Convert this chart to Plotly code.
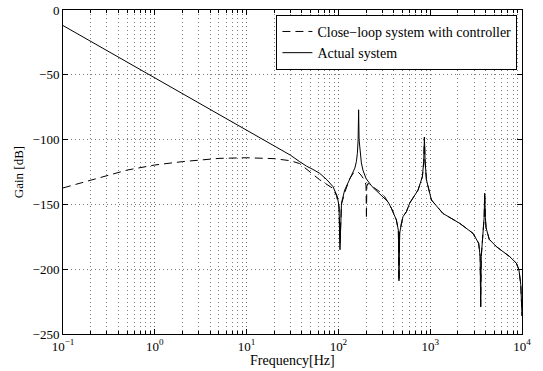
import plotly.graph_objects as go

# Actual system (frequency in Hz, gain in dB)
actual_freq = [0.1, 0.2, 0.5, 1, 2, 5, 10, 20, 30, 37.8, 45, 52.8, 62.5, 75, 87.3, 97.5,
               101.6, 104, 108, 117, 133, 151, 157, 161, 164, 166, 168, 172, 178, 185,
               200, 233, 296, 347, 378, 428, 450, 457, 465, 485, 505, 551, 598, 737,
               822, 850, 865, 880, 910, 1031, 1378, 2094, 2924, 3373, 3500, 3548, 3600,
               3870, 3924, 3990, 4060, 4400, 5265, 7345, 8690, 9270, 9700, 10000]
actual_db = [-12, -24.2, -40.2, -52.4, -64.6, -80.6, -92.8, -105, -112, -117, -120.5, -123,
             -126, -131, -136.3, -144, -151.7, -185, -149, -139, -130, -122, -117, -110.6,
             -100, -77, -100, -110.6, -118, -123.5, -130, -136.3, -143.5, -148, -153, -162,
             -170, -209, -172, -164.6, -159.5, -155.6, -149, -139, -128.6, -117, -98.2,
             -117, -131, -146.6, -157, -164.6, -172.3, -180, -190, -229, -190, -160,
             -141.4, -160, -168, -177, -182.6, -190.3, -195.4, -200.6, -212, -236]

# Close-loop system with controller
closed_freq = [0.1, 0.2, 0.5, 1, 2, 5, 10, 20, 30, 37.8, 45, 52.8, 62.5, 87, 95, 101.6,
               104, 108, 117, 133, 145, 162, 176, 191, 200, 202, 204, 210, 248, 282,
               319, 347, 378, 428, 450, 457, 465, 485, 505, 551, 598, 737, 822, 850,
               865, 880, 910, 1031, 1378, 2094, 2924, 3373, 3500, 3548, 3600, 3870,
               3924, 3990, 4060, 4400, 5265, 7345, 8690, 9270, 9700, 10000]
closed_db = [-137.3, -131.2, -123.5, -119.6, -117, -114.5, -114, -114.7, -116.3, -118.5,
             -123, -127.3, -131, -137.6, -143, -152, -180, -150, -141, -130, -126,
             -124.7, -127.3, -131, -135, -161, -136, -133.8, -137.6, -140.2, -144, -148,
             -153, -162, -170, -209, -172, -164.6, -159.5, -155.6, -149, -139, -128.6,
             -117, -98.2, -117, -131, -146.6, -157, -164.6, -172.3, -180, -190, -229,
             -190, -160, -141.4, -160, -168, -177, -182.6, -190.3, -195.4, -200.6, -212,
             -236]

x_tickvals = [0.1, 1, 10, 100, 1000, 10000]
x_ticktext = ["10<sup>\u22121</sup>", "10<sup>0</sup>", "10<sup>1</sup>",
              "10<sup>2</sup>", "10<sup>3</sup>", "10<sup>4</sup>"]
y_ticks = [-250, -200, -150, -100, -50, 0]

font_family = "Liberation Serif, Times New Roman, Times, serif"

fig = go.Figure()
fig.add_trace(go.Scatter(x=closed_freq, y=closed_db, mode="lines",
                         name="Close\u2212loop system with controller",
                         line=dict(color="black", width=1, dash="8px,5px")))
fig.add_trace(go.Scatter(x=actual_freq, y=actual_db, mode="lines",
                         name="Actual system",
                         line=dict(color="black", width=1)))

grid_col = "rgba(100,100,100,0.85)"
grid_dash = "1px,3px"
fig.update_layout(
    width=543, height=371,
    margin=dict(l=63, r=21, t=10, b=37),
    paper_bgcolor="white", plot_bgcolor="white",
    font=dict(family=font_family, size=13, color="black"),
    showlegend=True,
    legend=dict(x=0.990, y=0.985, xanchor="right", yanchor="top",
                bordercolor="black", borderwidth=1, bgcolor="white",
                font=dict(family=font_family, size=14),
                tracegroupgap=0, itemwidth=30),
    xaxis=dict(type="log", range=[-1, 4], tickvals=x_tickvals, ticktext=x_ticktext,
               showline=True, linecolor="black", linewidth=1, mirror="allticks",
               ticks="inside", ticklen=5, tickcolor="black", automargin=False,
               showgrid=True, gridcolor=grid_col, griddash=grid_dash, gridwidth=1,
               minor=dict(dtick="D1", showgrid=True, gridcolor=grid_col,
                          griddash=grid_dash, gridwidth=1, ticks="inside",
                          ticklen=3, tickcolor="black"),
               zeroline=False,
               tickfont=dict(family=font_family, size=13)),
    yaxis=dict(range=[-250, 0], tickvals=y_ticks,
               showline=True, linecolor="black", linewidth=1, mirror="allticks",
               ticks="inside", ticklen=5, tickcolor="black", automargin=False,
               showgrid=True, gridcolor=grid_col, griddash=grid_dash, gridwidth=1,
               zeroline=False,
               title=dict(text="Gain [dB]", standoff=6,
                          font=dict(family=font_family, size=13)),
               tickfont=dict(family=font_family, size=13)),
    annotations=[dict(text="Frequency[Hz]", xref="paper", yref="paper",
                      x=0.5, y=-0.082, xanchor="center", yanchor="middle",
                      showarrow=False, font=dict(family=font_family, size=14))],
)

fig.write_html("out.html",
               config={"displayModeBar": False},
               post_script="document.body.style.margin='0';"
                           "document.body.style.padding='0';"
                           "document.body.style.overflow='hidden';")
